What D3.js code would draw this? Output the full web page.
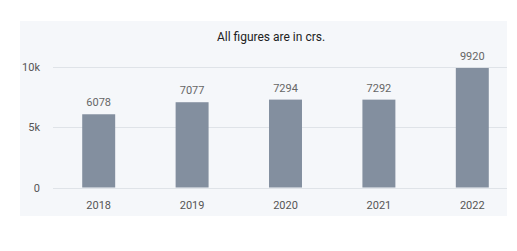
<!DOCTYPE html>
<html lang="en">
<head>
<meta charset="UTF-8">
<title>All figures are in crs.</title>
<script src="https://d3js.org/d3.v7.min.js"></script>
<style>
body {
  margin: 0;
  background: #fff;
  font-family: 'Roboto', sans-serif;
}
.grid line { stroke: #dfe3e8; stroke-width: 1px; }
.tick-label { fill: #555; font-size: 11px; }
.val { fill: #666; font-size: 11px; text-anchor: middle; }
.title { fill: #222; font-size: 12px; text-anchor: middle; }
</style>
</head>
<body>
<svg width="517" height="251"></svg>
<script>
// data
var years = ["2018", "2019", "2020", "2021", "2022"];
var values = [6078, 7077, 7294, 7292, 9920];
var yTicks = [0, 5000, 10000];
var yTickLabels = ["0", "5k", "10k"];

var svg = d3.select("svg");

// panel
svg.append("rect")
  .attr("x", 20).attr("y", 21)
  .attr("width", 487).attr("height", 195)
  .attr("fill", "#f5f7fa");

svg.append("text")
  .attr("class", "title")
  .attr("x", 271).attr("y", 41)
  .text("All figures are in crs.");

var x = d3.scaleBand()
  .domain(years)
  .range([52, 519])
  .paddingInner(0.647)
  .paddingOuter(0.3235);

var y = d3.scaleLinear()
  .domain([0, 10000])
  .range([187.5, 67]);

var grid = svg.append("g").attr("class", "grid");
grid.selectAll("line")
  .data(yTicks)
  .enter().append("line")
  .attr("x1", 53).attr("x2", 507)
  .attr("y1", function(d) { return Math.round(y(d)) + 0.5; })
  .attr("y2", function(d) { return Math.round(y(d)) + 0.5; });

svg.selectAll(".ylab")
  .data(yTicks)
  .enter().append("text")
  .attr("class", "tick-label")
  .attr("text-anchor", "end")
  .attr("x", 40)
  .attr("y", function(d) { return y(d) + 4; })
  .text(function(d, i) { return yTickLabels[i]; });

svg.selectAll(".bar")
  .data(values)
  .enter().append("rect")
  .attr("x", function(d, i) { return x(years[i]); })
  .attr("width", x.bandwidth())
  .attr("y", function(d) { return y(d); })
  .attr("height", function(d) { return y(0) - y(d); })
  .attr("fill", "#838f9f");

svg.selectAll(".val")
  .data(values)
  .enter().append("text")
  .attr("class", "val")
  .attr("x", function(d, i) { return x(years[i]) + x.bandwidth() / 2; })
  .attr("y", function(d) { return y(d) - 8; })
  .text(function(d) { return d; });

svg.selectAll(".xlab")
  .data(years)
  .enter().append("text")
  .attr("class", "tick-label")
  .attr("text-anchor", "middle")
  .attr("x", function(d) { return x(d) + x.bandwidth() / 2; })
  .attr("y", 208.5)
  .text(function(d) { return d; });
</script>
</body>
</html>
